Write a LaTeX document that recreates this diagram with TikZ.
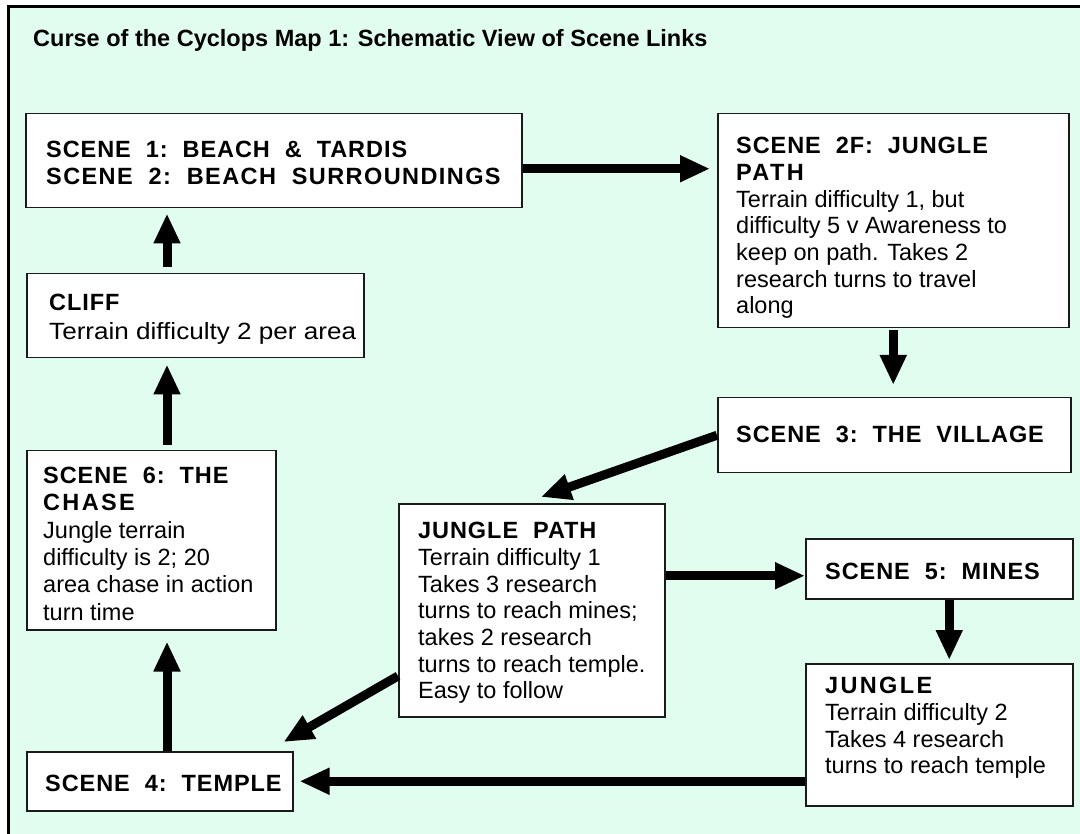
\documentclass[tikz,border=0pt]{standalone}
\usepackage{fontspec}
\usepackage{graphicx}
\setmainfont{Liberation Sans}
\newfontfamily\hdr[LetterSpace=4]{Liberation Sans}
\newfontfamily\hdrmid[LetterSpace=6]{Liberation Sans}
\newfontfamily\hdrwide[LetterSpace=10]{Liberation Sans}
\usetikzlibrary{arrows.meta,calc}
\definecolor{mint}{HTML}{E0FDF0}
\definecolor{boxline}{HTML}{1A1A1A}
\begin{document}
\begin{tikzpicture}[x=1pt,y=-1pt,
  box/.style={draw=boxline, line width=1.5pt, fill=white, anchor=north west, inner sep=0pt},
  txt/.style={anchor=north west, inner sep=0pt, align=left, font=\fontsize{23.5}{26.7}\selectfont},
  hd/.style={font=\hdr\bfseries\fontsize{23.5}{26.7}\selectfont},
  arr/.style={line width=9pt, -{Triangle[length=30pt,width=25pt]}},
]
\useasboundingbox (0,0) rectangle (1080,834);
% background frame
\fill[mint] (8,7) rectangle (1080,834);
\draw[line width=3pt] (8,834) -- (8,7) -- (1080,7);
% title
\node[anchor=base west, inner sep=0pt, font=\bfseries\fontsize{23.5}{28}\selectfont] (title) at (33,47)
  {Curse of the Cyclops Map 1: Schematic View of Scene Links};
% boxes
\node[box, minimum width=496pt, minimum height=94pt] (b1) at (25,113) {};
\node[box, minimum width=337pt, minimum height=84pt] (cl) at (26,273) {};
\node[box, minimum width=351pt, minimum height=214pt] (s2f) at (717,113) {};
\node[box, minimum width=353pt, minimum height=75pt] (v3) at (717,397) {};
\node[box, minimum width=266pt, minimum height=213pt] (jp) at (398,503) {};
\node[box, minimum width=267pt, minimum height=60pt] (m5) at (805,538) {};
\node[box, minimum width=267pt, minimum height=142pt] (jg) at (805,663) {};
\node[box, minimum width=266pt, minimum height=59pt] (t4) at (26,751) {};
\node[box, minimum width=249pt, minimum height=179pt] (s6) at (26,450) {};
% texts
\node[txt, hd] (t1) at (46,141) {SCENE\ \ 1:\ \ BEACH\ \ \&\ \ TARDIS\\{\hdrmid SCENE\ \ 2:\ \ BEACH\ \ SURROUNDINGS}};
\node[txt] (tcl) at (49,294) {{\hdr\bfseries CLIFF}\\[2pt]\scalebox{1.11}[1]{Terrain difficulty 2 per area}};
\node[txt] (ts2f) at (736,137) {{\hdr\bfseries SCENE\ \ 2F:\ \ JUNGLE}\\{\hdrwide\bfseries PATH}\\Terrain difficulty 1, but\\difficulty 5 v Awareness to\\keep on path. Takes 2\\research turns to travel\\along};
\node[txt, hd] (tv3) at (736,426) {SCENE\ \ 3:\ \ THE\ \ VILLAGE};
\node[txt] (tjp) at (418,522) {{\hdr\bfseries JUNGLE\ \ PATH}\\Terrain difficulty 1\\Takes 3 research\\turns to reach mines;\\takes 2 research\\turns to reach temple.\\Easy to follow};
\node[txt, hd] (tm5) at (825,563) {SCENE\ \ 5:\ \ MINES};
\node[txt] (tjg) at (825,677) {{\hdrwide\bfseries JUNGLE}\\Terrain difficulty 2\\Takes 4 research\\turns to reach temple};
\node[txt, hd] (tt4) at (45,775) {SCENE\ \ 4:\ \ TEMPLE};
\node[txt, font=\fontsize{23.5}{27.3}\selectfont] (ts6) at (43,467) {{\hdr\bfseries SCENE\ \ 6:\ \ THE}\\{\hdrwide\bfseries CHASE}\\Jungle terrain\\difficulty is 2; 20\\area chase in action\\turn time};
% connectors
\coordinate (a1s) at ($(b1.east)+(0,8)$);
\coordinate (a1e) at (a1s -| s2f.west);
\draw[arr, shorten >=7pt] (a1s) -- (a1e);
\draw[arr, shorten <=2pt, shorten >=12pt] (s2f.south) -- (s2f.south |- v3.north);
\coordinate (p3) at ($(jp.north west)+(143,-6)$);
\draw[arr] (v3.west) -- (p3);
\coordinate (a4e) at ($(m5.west)+(0,7)$);
\draw[arr] (a4e -| jp.east) -- (a4e);
\coordinate (a5s) at ($(m5.south)+(10,0)$);
\draw[arr, shorten >=3pt] (a5s) -- (a5s |- jg.north);
\draw[arr, shorten >=6pt] (jg.west |- t4.east) -- (t4.east);
\coordinate (a7s) at ($(jp.north west)+(0,173)$);
\coordinate (a7e) at ($(t4.north east)+(-10,-9)$);
\draw[arr] (a7s) -- (a7e);
\coordinate (a8s) at ($(t4.north west)+(141,0)$);
\draw[arr, shorten >=11pt] (a8s) -- (a8s |- s6.south);
\coordinate (a9s) at ($(s6.north west)+(141,0)$);
\draw[arr, shorten <=5pt, shorten >=6pt] (a9s) -- (a9s |- cl.south);
\coordinate (a10s) at ($(cl.north west)+(141,0)$);
\draw[arr, shorten <=6pt, shorten >=5pt] (a10s) -- (a10s |- b1.south);
\end{tikzpicture}
\end{document}
